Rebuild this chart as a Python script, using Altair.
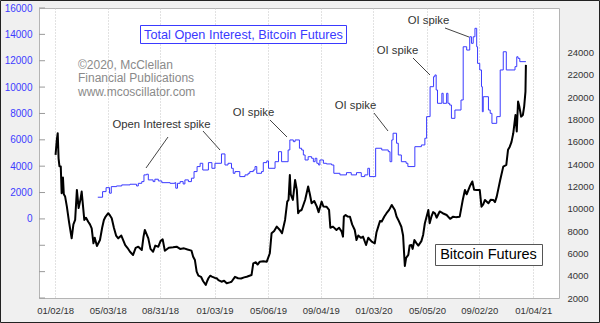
import altair as alt
import pandas as pd

FONT = "Liberation Sans"

# Bitcoin futures price (right axis)
btc_dates = [
    "2018-01-03", "2018-01-06", "2018-01-08", "2018-01-10", "2018-01-12", "2018-01-15",
    "2018-01-17", "2018-01-20", "2018-01-22", "2018-01-25", "2018-01-29", "2018-02-03",
    "2018-02-09", "2018-02-13", "2018-02-17", "2018-02-21", "2018-02-25", "2018-03-01",
    "2018-03-04", "2018-03-10", "2018-03-14", "2018-03-19", "2018-03-23", "2018-03-27",
    "2018-03-31", "2018-04-03", "2018-04-08", "2018-04-15", "2018-04-20", "2018-04-24",
    "2018-04-28", "2018-05-04", "2018-05-08", "2018-05-12", "2018-05-17", "2018-05-22",
    "2018-05-27", "2018-06-03", "2018-06-12", "2018-06-17", "2018-06-23", "2018-06-30",
    "2018-07-06", "2018-07-12", "2018-07-20", "2018-07-24", "2018-07-27", "2018-08-04",
    "2018-08-09", "2018-08-15", "2018-08-20", "2018-08-27", "2018-09-01", "2018-09-06",
    "2018-09-11", "2018-09-20", "2018-09-30", "2018-10-08", "2018-10-16", "2018-10-25",
    "2018-11-02", "2018-11-11", "2018-11-15", "2018-11-19", "2018-11-23", "2018-11-27",
    "2018-12-03", "2018-12-08", "2018-12-14", "2018-12-17", "2018-12-20", "2018-12-24",
    "2018-12-28", "2019-01-04", "2019-01-08", "2019-01-12", "2019-01-19", "2019-01-25",
    "2019-01-31", "2019-02-07", "2019-02-11", "2019-02-19", "2019-02-26", "2019-03-05",
    "2019-03-12", "2019-03-18", "2019-03-29", "2019-04-02", "2019-04-08", "2019-04-12",
    "2019-04-17", "2019-04-25", "2019-05-03", "2019-05-10", "2019-05-14", "2019-05-20",
    "2019-05-26", "2019-06-02", "2019-06-07", "2019-06-14", "2019-06-19", "2019-06-22",
    "2019-06-25", "2019-06-27", "2019-06-29", "2019-07-02", "2019-07-07", "2019-07-11",
    "2019-07-14", "2019-07-17", "2019-07-22", "2019-07-30", "2019-08-06", "2019-08-10",
    "2019-08-14", "2019-08-20", "2019-08-26", "2019-08-30", "2019-09-06", "2019-09-10",
    "2019-09-17", "2019-09-23", "2019-09-26", "2019-10-02", "2019-10-10", "2019-10-16",
    "2019-10-22", "2019-10-25", "2019-10-27", "2019-10-31", "2019-11-05", "2019-11-10",
    "2019-11-15", "2019-11-21", "2019-11-25", "2019-11-29", "2019-12-05", "2019-12-10",
    "2019-12-17", "2019-12-22", "2019-12-30", "2020-01-06", "2020-01-10", "2020-01-14",
    "2020-01-18", "2020-01-22", "2020-01-28", "2020-02-02", "2020-02-08", "2020-02-14",
    "2020-02-21", "2020-02-25", "2020-02-29", "2020-03-07", "2020-03-11", "2020-03-15",
    "2020-03-18", "2020-03-23", "2020-03-26", "2020-03-30", "2020-04-02", "2020-04-06",
    "2020-04-11", "2020-04-15", "2020-04-22", "2020-04-26", "2020-04-30", "2020-05-08",
    "2020-05-11", "2020-05-15", "2020-05-19", "2020-05-23", "2020-05-27", "2020-06-03",
    "2020-06-10", "2020-06-19", "2020-06-27", "2020-07-04", "2020-07-10", "2020-07-19",
    "2020-07-26", "2020-07-31", "2020-08-04", "2020-08-11", "2020-08-17", "2020-08-21",
    "2020-08-27", "2020-09-03", "2020-09-07", "2020-09-11", "2020-09-15", "2020-09-23",
    "2020-09-28", "2020-10-04", "2020-10-08", "2020-10-12", "2020-10-20", "2020-10-27",
    "2020-11-03", "2020-11-07", "2020-11-11", "2020-11-15", "2020-11-19", "2020-11-24",
    "2020-11-27", "2020-11-30", "2020-12-03", "2020-12-07", "2020-12-11", "2020-12-14",
    "2020-12-17", "2020-12-18",
]
btc_prices = [
    14830, 16200, 16770, 14500, 13800, 13780,
    11390, 12800, 11300, 11090, 10190, 8800,
    7350, 8600, 9000, 11690, 10060, 10800,
    11540, 9000, 9200, 8840, 8600, 8250,
    6900, 7400, 6660, 7200, 8300, 9000,
    9300, 9600, 9400, 9150, 8300, 7600,
    7350, 7600, 6750, 6500, 6150, 5860,
    6500, 6600, 6300, 7500, 8100, 7350,
    6400, 6150, 6700, 6600, 7100, 7260,
    6230, 6500, 6550, 6600, 6400, 6450,
    6350, 6250, 5700, 5400, 4360, 4000,
    3900, 3500, 3170, 3500, 3770, 4000,
    3910, 3800, 3770, 3600, 3460, 3550,
    3320, 3400, 3460, 3900, 3770, 3750,
    3850, 3910, 4060, 5110, 5200, 5000,
    5260, 5300, 5260, 6010, 7800, 8000,
    8400, 8100, 7800, 9000, 10640, 10800,
    13030, 11300, 11090, 10800, 12580, 11690,
    9600, 9800, 9890, 10790, 11990, 11300,
    10490, 10700, 10190, 9700, 10640, 10200,
    10190, 9900, 8300, 8400, 8100, 8300,
    7950, 7500, 9300, 9440, 9300, 9290,
    8600, 8100, 7200, 7600, 7400, 7500,
    6750, 7400, 7050, 6900, 7900, 8400,
    8900, 8860, 9300, 9600, 9900, 10340,
    9890, 9300, 9000, 8390, 7600, 4870,
    5600, 5860, 6700, 6750, 6400, 7200,
    6900, 6700, 7100, 7650, 8700, 9890,
    8700, 9290, 9700, 9600, 9200, 9760,
    9600, 9440, 9100, 9290, 9250, 9290,
    10790, 11690, 11300, 11990, 12450, 11700,
    11690, 11690, 10190, 10400, 10790, 10490,
    10800, 10790, 10600, 11090, 12580, 13780,
    13930, 15300, 15570, 16000, 16770, 18400,
    16930, 19610, 19160, 18260, 18400, 19160,
    20510, 22900,
]

# Total open interest (left axis), weekly steps
oi_dates = [
    "2018-04-10", "2018-04-21", "2018-04-29", "2018-05-07", "2018-05-11", "2018-05-23",
    "2018-06-04", "2018-06-23", "2018-07-08", "2018-07-12", "2018-07-20", "2018-07-25",
    "2018-07-31", "2018-08-04", "2018-08-15", "2018-08-19", "2018-08-27", "2018-09-04",
    "2018-09-23", "2018-10-04", "2018-10-06", "2018-10-10", "2018-10-16", "2018-10-23",
    "2018-10-27", "2018-11-04", "2018-11-11", "2018-11-17", "2018-11-24", "2018-12-01",
    "2018-12-07", "2018-12-20", "2018-12-28", "2019-01-04", "2019-01-19", "2019-01-27",
    "2019-02-03", "2019-02-11", "2019-02-15", "2019-02-19", "2019-03-02", "2019-03-14",
    "2019-03-21", "2019-03-25", "2019-04-02", "2019-04-06", "2019-04-10", "2019-04-21",
    "2019-04-25", "2019-05-03", "2019-05-07", "2019-05-22", "2019-05-30", "2019-06-06",
    "2019-06-21", "2019-06-25", "2019-07-03", "2019-07-07", "2019-07-17", "2019-07-22",
    "2019-07-26", "2019-07-30", "2019-08-06", "2019-08-14", "2019-08-18", "2019-08-22",
    "2019-08-26", "2019-08-30", "2019-09-02", "2019-09-10", "2019-09-17", "2019-09-29",
    "2019-10-04", "2019-10-18", "2019-11-02", "2019-11-13", "2019-11-25", "2019-12-06",
    "2019-12-14", "2019-12-21", "2019-12-25", "2020-01-08", "2020-01-22", "2020-02-06",
    "2020-02-10", "2020-02-14", "2020-02-17", "2020-02-25", "2020-02-29", "2020-03-07",
    "2020-03-18", "2020-03-22", "2020-04-07", "2020-04-22", "2020-04-30", "2020-05-04",
    "2020-05-12", "2020-05-20", "2020-05-23", "2020-05-26", "2020-05-29", "2020-06-08",
    "2020-06-11", "2020-06-19", "2020-06-22", "2020-06-26", "2020-06-30", "2020-07-08",
    "2020-07-22", "2020-07-27", "2020-08-04", "2020-08-11", "2020-08-15", "2020-08-19",
    "2020-08-23", "2020-08-27", "2020-08-29", "2020-09-03", "2020-09-07", "2020-09-09",
    "2020-09-11", "2020-09-23", "2020-09-27", "2020-10-01", "2020-10-12", "2020-10-20",
    "2020-10-27", "2020-11-03", "2020-11-23", "2020-11-27", "2020-11-30", "2020-12-04",
    "2020-12-18",
]
oi_values = [
    1645, 2070, 2370, 1950, 2450, 2500,
    2580, 2630, 2500, 2700, 2830, 3340,
    3390, 2960, 2830, 3010, 2880, 2750,
    2700, 2750, 2330, 2700, 2830, 2650,
    2960, 2830, 3090, 3590, 3970, 4220,
    3710, 4270, 3840, 4220, 4930, 4090,
    4220, 3840, 3460, 3590, 3210, 3340,
    3460, 3590, 3710, 3970, 3460, 3590,
    4270, 4400, 3840, 4340, 5100, 4340,
    5230, 5990, 5860, 5990, 5360, 5230,
    4850, 4470, 4720, 4600, 4340, 4600,
    4220, 4090, 4470, 4220, 4170, 4090,
    3460, 3340, 3510, 3340, 3510, 3210,
    3340, 3840, 3210, 5360, 5230, 5100,
    4340, 5990, 6500, 5740, 4850, 4340,
    4220, 3970, 5480, 5610, 6120, 7760,
    10030, 10790, 10920, 9780, 8770, 9530,
    8770, 9530, 8770, 8640, 7630, 8260,
    9020, 13060, 12810, 13820, 13320, 13820,
    14460, 13060, 11800, 11300, 10030, 8130,
    9270, 8260, 8010, 7250, 7760, 11300,
    12680, 11300, 11550, 12300, 12180, 11930,
    11930,
]

x_tick_dates = ["2018-01-02", "2018-05-03", "2018-08-31", "2019-01-03", "2019-05-06",
                "2019-09-04", "2020-01-03", "2020-05-05", "2020-09-02", "2021-01-04"]
x_domain = ["2017-11-26", "2021-03-04"]
left_ticks = list(range(-6000, 16001, 2000))
right_ticks = list(range(2000, 24001, 2000))
left_domain = [-6000, 16000]
right_domain = [2000, 28000]

copyright_lines = ["\u00a92020, McClellan", "Financial Publications", "www.mcoscillator.com"]
oi_title = "Total Open Interest, Bitcoin Futures"
btc_title = "Bitcoin Futures"
spike_labels = ["Open Interest spike", "OI spike", "OI spike", "OI spike", "OI spike"]


def dt(s):
    y, m, d = map(int, s.split("-"))
    return alt.DateTime(year=y, month=m, date=d, utc=True)


btc = pd.DataFrame({"date": btc_dates, "price": btc_prices})
oi = pd.DataFrame({"date": oi_dates, "oi": oi_values})
ticks_df = pd.DataFrame({"v": left_ticks})
dummy = pd.DataFrame({"a": [0]})

x_scale = alt.Scale(type="utc", domain=[dt(s) for s in x_domain])
x_axis = alt.Axis(values=[dt(s) for s in x_tick_dates],
                  labelExpr="utcFormat(datum.value, '%m/%d/%y')",
                  title=None, grid=True, gridColor="#c4c4c4", gridDash=[1, 2], gridWidth=1,
                  ticks=False, domain=False, labelFont=FONT, labelFontSize=9.5,
                  labelColor="#333333", labelPadding=7, labelOverlap=False, labelFlush=False)

oi_line = alt.Chart(oi).mark_line(color="#3a3aff", strokeWidth=1, interpolate="step-after").encode(
    x=alt.X("date:T", scale=x_scale, axis=x_axis),
    y=alt.Y("oi:Q", scale=alt.Scale(domain=left_domain, nice=False, zero=False),
            axis=alt.Axis(orient="left", values=left_ticks,
                          labelExpr="datum.value >= 0 ? format(datum.value, 'd') : ''",
                          ticks=False, domain=False, grid=False, title=None,
                          labelColor="#3c3cff", labelFontSize=10, labelFont=FONT,
                          labelPadding=7, labelOverlap=False)),
)

btc_line = alt.Chart(btc).mark_line(color="black", strokeWidth=2, strokeJoin="round").encode(
    x=alt.X("date:T", scale=x_scale, axis=x_axis),
    y=alt.Y("price:Q", scale=alt.Scale(domain=right_domain, nice=False, zero=False),
            axis=alt.Axis(orient="right", values=right_ticks, format="d",
                          ticks=False, domain=False, grid=False, title=None,
                          labelColor="#333333", labelFontSize=9.5, labelFont=FONT,
                          labelPadding=8, labelOverlap=False)),
)

left_tick_marks = alt.Chart(ticks_df).mark_rule(color="#9a9a9a", strokeWidth=1).encode(
    x=alt.value(0), x2=alt.value(6),
    y=alt.Y("v:Q", scale=alt.Scale(domain=left_domain, nice=False, zero=False), axis=None),
)

layers = [oi_line, btc_line, left_tick_marks]

# Title boxes
layers.append(alt.Chart(dummy).mark_rect(fill="white", stroke="#3a3aff", strokeWidth=1).encode(
    x=alt.value(101.5), x2=alt.value(307.5), y=alt.value(17.5), y2=alt.value(35.5)))
layers.append(alt.Chart(dummy).mark_text(text=oi_title, font=FONT, fontSize=12.7, color="#3a3aff",
                                         align="center", baseline="middle").encode(
    x=alt.value(204.5), y=alt.value(26.5)))
layers.append(alt.Chart(dummy).mark_rect(fill="white", stroke="#555555", strokeWidth=1).encode(
    x=alt.value(396.5), x2=alt.value(503.5), y=alt.value(236.5), y2=alt.value(257.5)))
layers.append(alt.Chart(dummy).mark_text(text=btc_title, font=FONT, fontSize=14.5, color="black",
                                         align="center", baseline="middle").encode(
    x=alt.value(449.5), y=alt.value(247)))

# Copyright
for line, yy in zip(copyright_lines, [57, 70, 84]):
    layers.append(alt.Chart(dummy).mark_text(text=line, font=FONT, fontSize=12, color="#8a8a8a",
                                             align="left", baseline="middle").encode(
        x=alt.value(39), y=alt.value(yy)))

# Spike annotations
label_pos = [(122.5, 117), (214.5, 105), (316.5, 98), (358.5, 43), (389.5, 13)]
for txt, (px, py) in zip(spike_labels, label_pos):
    layers.append(alt.Chart(dummy).mark_text(text=txt, font=FONT, fontSize=11.3, color="#333333",
                                             align="center", baseline="middle").encode(
        x=alt.value(px), y=alt.value(py)))

leaders = [(129, 129, 107, 160), (164, 123, 181, 142), (231, 112, 248, 129),
           (335, 105, 349, 123), (374, 50, 391, 67), (406, 20, 430, 29)]
for (a, b, c, d) in leaders:
    layers.append(alt.Chart(dummy).mark_rule(color="#444444", strokeWidth=1).encode(
        x=alt.value(a), y=alt.value(b), x2=alt.value(c), y2=alt.value(d)))

# Outer frame
layers.append(alt.Chart(dummy).mark_rect(fillOpacity=0, stroke="#222222", strokeWidth=1).encode(
    x=alt.value(-38.5), x2=alt.value(560.5), y=alt.value(-7.5), y2=alt.value(314.5)))

chart = alt.layer(*layers).resolve_scale(y="independent").properties(
    width=520, height=290, autosize="none",
    padding={"left": 39, "top": 8, "right": 41, "bottom": 25},
).configure(background="#f0f0f0").configure_view(fill="white", stroke="#b4b4b4", strokeWidth=1)

chart.save("out.html", embed_options={"renderer": "svg", "actions": False})
